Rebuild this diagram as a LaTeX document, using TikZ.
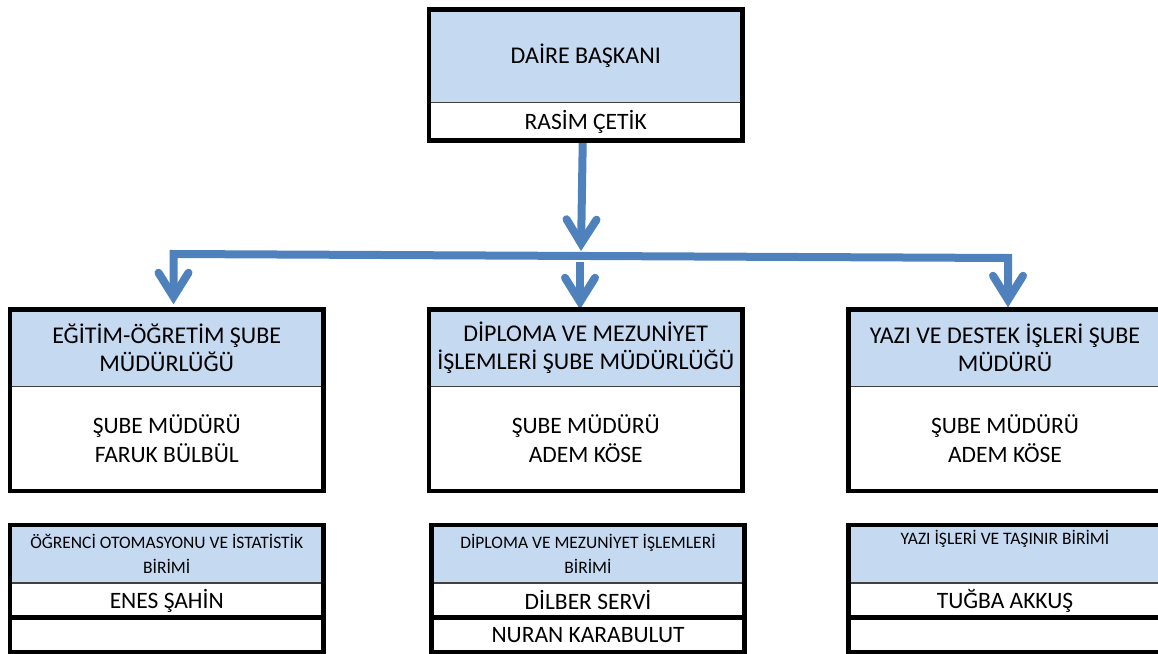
\documentclass[tikz,border=0pt]{standalone}
\usepackage{xcolor}
\usepackage{fontspec}
\setmainfont{Carlito}
\usepackage{tikz}
\usetikzlibrary{arrows.meta}

\definecolor{kutumavi}{RGB}{197,217,241}
\definecolor{okmavi}{RGB}{79,129,189}

\tikzset{
  uc/.tip={Straight Barb[length=24pt, width=30pt, line cap=round]},
  baslik/.style={fill=kutumavi, minimum width=313, inner sep=0pt, align=center, font=\fontsize{24}{28}\selectfont},
  isim/.style={fill=white, minimum width=313, inner sep=0pt, align=center, anchor=north, font=\fontsize{23.5}{29}\selectfont},
  birim/.style={baslik, font=\fontsize{17.5}{25}\selectfont},
  cerceve/.style={draw=black, line width=4.5pt},
  ince/.style={draw=black!75, line width=1.5pt},
  ok/.style={draw=okmavi, line width=8pt, -uc},
  okiki/.style={draw=okmavi, line width=8pt, uc-uc},
}

\begin{document}
\begin{tikzpicture}[x=1pt,y=-1pt]

  \useasboundingbox (0,0) rectangle (1158,653);

  \node[baslik, minimum height=93] (baskan) at (585.75,56) {DAİRE BAŞKANI};
  \node[isim, minimum height=37.5] (rasim) at (baskan.south) {RASİM ÇETİK};

  \node[baslik, minimum height=77] (egitim) at (166.75,348) {EĞİTİM-ÖĞRETİM ŞUBE\\MÜDÜRLÜĞÜ};
  \node[isim, minimum height=104] (faruk) at (egitim.south) {ŞUBE MÜDÜRÜ\\FARUK BÜLBÜL};
  \node[baslik, minimum height=77] (diploma) at (585.75,348) {DİPLOMA VE MEZUNİYET\\İŞLEMLERİ ŞUBE MÜDÜRLÜĞÜ};
  \node[isim, minimum height=104] (adembir) at (diploma.south) {ŞUBE MÜDÜRÜ\\ADEM KÖSE};
  \node[baslik, minimum height=77] (yazi) at (1005,348) {YAZI VE DESTEK İŞLERİ ŞUBE\\MÜDÜRÜ};
  \node[isim, minimum height=104] (ademiki) at (yazi.south) {ŞUBE MÜDÜRÜ\\ADEM KÖSE};

  \node[birim, minimum height=58] (ogrenci) at (166.75,554) {ÖĞRENCİ OTOMASYONU VE İSTATİSTİK\\BİRİMİ};
  \node[isim, minimum height=34] (enes) at (ogrenci.south) {ENES ŞAHİN};
  \node[isim, minimum height=34] (bosbir) at (enes.south) {};
  \node[birim, minimum height=58] (mezuniyet) at (588,554) {DİPLOMA VE MEZUNİYET İŞLEMLERİ\\BİRİMİ};
  \node[isim, minimum height=34] (dilber) at (mezuniyet.south) {DİLBER SERVİ};
  \node[isim, minimum height=34] (nuran) at (dilber.south) {NURAN KARABULUT};
  \node[birim, minimum height=58] (tasinir) at (1005,554) {YAZI İŞLERİ VE TAŞINIR BİRİMİ\\\strut};
  \node[isim, minimum height=34] (tugba) at (tasinir.south) {TUĞBA AKKUŞ};
  \node[isim, minimum height=34] (bosiki) at (tugba.south) {};

  \coordinate (kavsak) at (581,251);
  \coordinate (solkose) at (173.5,254);
  \coordinate (sagkose) at (1008,258);
  \coordinate (ortabas) at (580,262);

  \draw[ok] ([xshift=-3]rasim.south) -- (kavsak);
  \draw[okiki] ([yshift=5]solkose |- egitim.north) -- (solkose) -- (sagkose) -- ([yshift=2]sagkose |- yazi.north);
  \draw[ok] (ortabas) -- (ortabas |- diploma.north);

  \draw[ince] (baskan.south west) -- (baskan.south east);
  \draw[cerceve] (baskan.north west) rectangle (rasim.south east);

  \draw[ince] (egitim.south west) -- (egitim.south east);
  \draw[cerceve] (egitim.north west) rectangle (faruk.south east);
  \draw[ince] (diploma.south west) -- (diploma.south east);
  \draw[cerceve] (diploma.north west) rectangle (adembir.south east);
  \draw[ince] (yazi.south west) -- (yazi.south east);
  \draw[cerceve] (yazi.north west) rectangle (ademiki.south east);

  \draw[ince] (ogrenci.south west) -- (ogrenci.south east);
  \draw[cerceve] (ogrenci.north west) rectangle (enes.south east);
  \draw[cerceve] (bosbir.north west) rectangle (bosbir.south east);
  \draw[ince] (mezuniyet.south west) -- (mezuniyet.south east);
  \draw[cerceve] (mezuniyet.north west) rectangle (dilber.south east);
  \draw[cerceve] (nuran.north west) rectangle (nuran.south east);
  \draw[ince] (tasinir.south west) -- (tasinir.south east);
  \draw[cerceve] (tasinir.north west) rectangle (tugba.south east);
  \draw[cerceve] (bosiki.north west) rectangle (bosiki.south east);
\end{tikzpicture}
\end{document}
